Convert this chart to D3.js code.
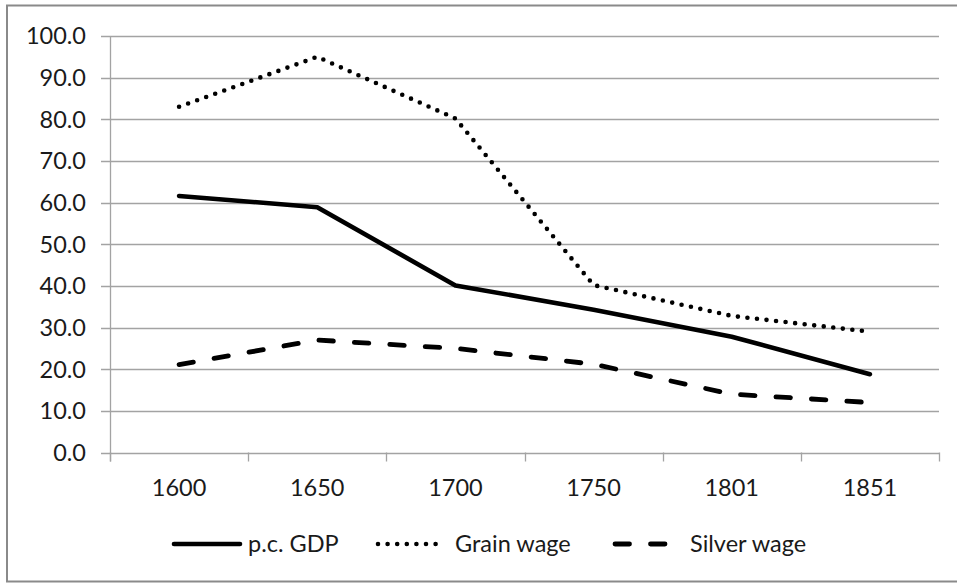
<!DOCTYPE html>
<html>
<head>
<meta charset="utf-8">
<script src="https://cdn.jsdelivr.net/npm/d3@7/dist/d3.min.js"></script>
<style>
  html, body { margin: 0; padding: 0; background: #fff; }
  svg { display: block; }
  text { font-family: Lato, "Open Sans", sans-serif; fill: #1a1a1a; }
</style>
</head>
<body>
<svg id="chart" width="957" height="584"></svg>
<script>
const categories = ["1600", "1650", "1700", "1750", "1801", "1851"];
const gdpValues = [61.6, 58.9, 40.1, 34.3, 27.8, 18.8];
const grainValues = [83.0, 95.0, 80.2, 40.2, 32.8, 29.0];
const silverValues = [21.1, 27.0, 25.0, 21.2, 14.0, 12.0];
const yTicks = [0, 10, 20, 30, 40, 50, 60, 70, 80, 90, 100];
const seriesNames = ["p.c. GDP", "Grain wage", "Silver wage"];

(function () {
const series = [
  { name: seriesNames[0], values: gdpValues, dash: null, width: 4.6 },
  { name: seriesNames[1], values: grainValues, dash: "0 9.6", width: 4.6 },
  { name: seriesNames[2], values: silverValues, dash: "14.5 21", width: 4.8 }
];

const svg = d3.select("#chart");
const fontSize = "23.5px";

// outer frame
svg.append("rect")
  .attr("x", 7).attr("y", 5.5)
  .attr("width", 960).attr("height", 576)
  .attr("fill", "none").attr("stroke", "#8a8a8a").attr("stroke-width", 2);

const pLeft = 110, pRight = 939, pTop = 36, pBottom = 452.5;

const x = d3.scaleBand().domain(categories).range([pLeft, pRight]).padding(0);
const y = d3.scaleLinear().domain([0, 100]).range([pBottom, pTop]);

const gridColor = "#a3a3a3";

// gridlines
svg.append("g").selectAll("line").data(yTicks).join("line")
  .attr("x1", pLeft - 9).attr("x2", pRight)
  .attr("y1", d => Math.round(y(d)) + 0.5).attr("y2", d => Math.round(y(d)) + 0.5)
  .attr("stroke", gridColor).attr("stroke-width", 1.3);

// y axis line
svg.append("line")
  .attr("x1", pLeft + 0.5).attr("x2", pLeft + 0.5)
  .attr("y1", pTop).attr("y2", pBottom + 9)
  .attr("stroke", gridColor).attr("stroke-width", 1.3);

// x ticks at band edges
const edges = categories.map(c => x(c)).concat([pRight]);
svg.append("g").selectAll("line").data(edges).join("line")
  .attr("x1", d => Math.round(d) + 0.5).attr("x2", d => Math.round(d) + 0.5)
  .attr("y1", pBottom).attr("y2", pBottom + 9)
  .attr("stroke", gridColor).attr("stroke-width", 1.3);

// y labels
svg.append("g").selectAll("text").data(yTicks).join("text")
  .attr("x", 86).attr("y", d => y(d))
  .attr("dy", "0.36em")
  .attr("text-anchor", "end")
  .style("font-size", fontSize)
  .text(d => d3.format(".1f")(d));

// x labels
svg.append("g").selectAll("text").data(categories).join("text")
  .attr("x", d => x(d) + x.bandwidth() / 2).attr("y", 496)
  .attr("text-anchor", "middle")
  .style("font-size", fontSize)
  .text(d => d);

// lines
const line = d3.line()
  .x((d, i) => x(categories[i]) + x.bandwidth() / 2)
  .y(d => y(d));

series.forEach(s => {
  svg.append("path")
    .datum(s.values)
    .attr("d", line)
    .attr("fill", "none")
    .attr("stroke", "#000")
    .attr("stroke-width", s.width)
    .attr("stroke-linejoin", "round")
    .attr("stroke-linecap", "round")
    .attr("stroke-dasharray", s.dash);
});

// legend
const legendY = 544;
const legendItems = [
  { s: series[0], x1: 174, x2: 240, tx: 248 },
  { s: series[1], x1: 378, x2: 440, tx: 455 },
  { s: series[2], x1: 615, x2: 670, tx: 690 }
];
legendItems.forEach(it => {
  svg.append("line")
    .attr("x1", it.x1).attr("x2", it.x2)
    .attr("y1", legendY).attr("y2", legendY)
    .attr("stroke", "#000")
    .attr("stroke-width", it.s.width)
    .attr("stroke-linecap", "round")
    .attr("stroke-dasharray", it.s.dash);
  svg.append("text")
    .attr("x", it.tx).attr("y", legendY)
    .attr("dy", "0.36em")
    .style("font-size", fontSize)
    .text(it.s.name);
});
})();
</script>
</body>
</html>
